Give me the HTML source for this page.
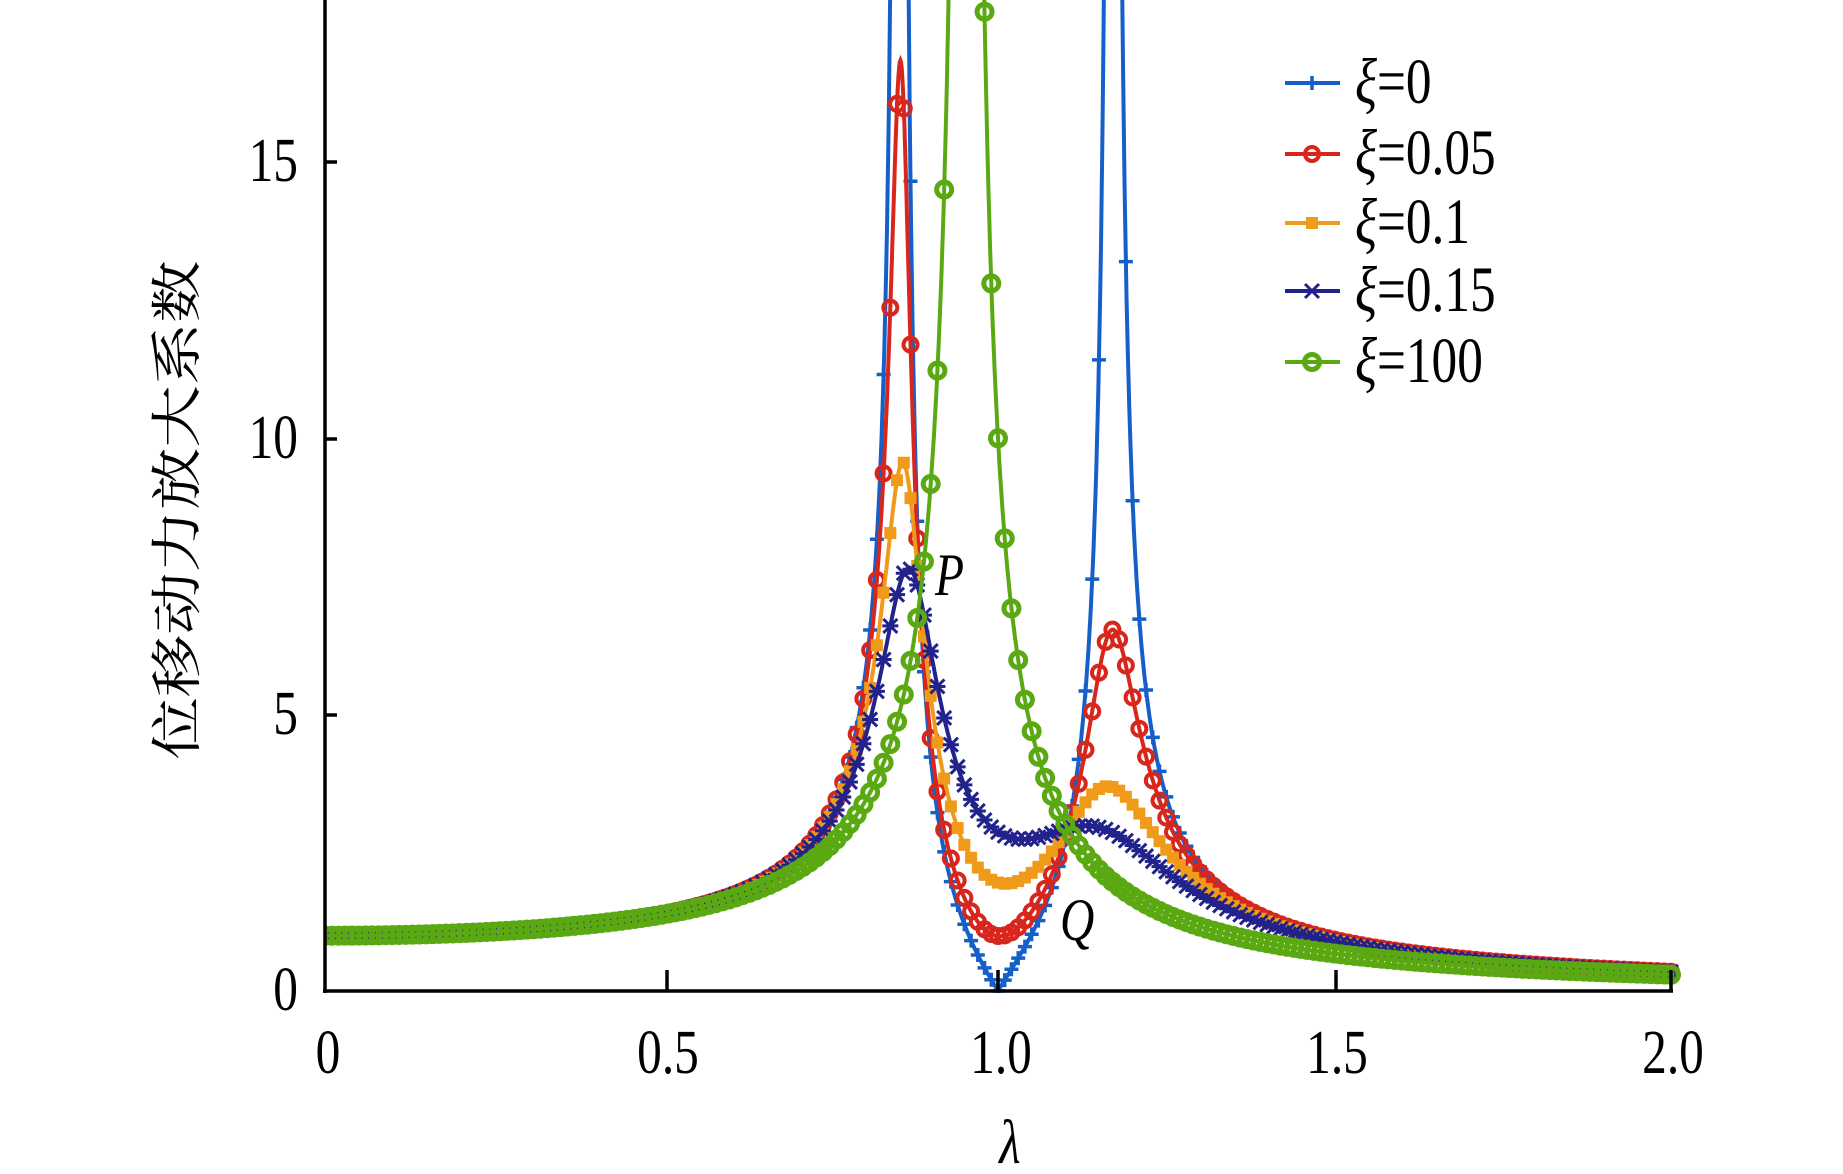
<!DOCTYPE html>
<html><head><meta charset="utf-8"><style>
html,body{margin:0;padding:0;background:#fff;}
svg{display:block;}
text{font-family:"Liberation Serif","Noto Serif CJK SC",serif;}
</style></head><body>
<svg id="s" width="1843" height="1174" viewBox="0 0 1843 1174" xmlns="http://www.w3.org/2000/svg">
<defs><clipPath id="c"><rect x="325" y="0" width="1360" height="993"/></clipPath></defs>
<g id="plot" clip-path="url(#c)"></g>
<g stroke="#000" stroke-width="3.5" fill="none">
<line x1="325" y1="0" x2="325" y2="993"/>
<line x1="323" y1="991" x2="1673" y2="991"/>
<line x1="325" y1="715" x2="337" y2="715"/>
<line x1="325" y1="439" x2="337" y2="439"/>
<line x1="325" y1="162" x2="337" y2="162"/>
<line x1="667" y1="991" x2="667" y2="970"/>
<line x1="998" y1="991" x2="998" y2="970"/>
<line x1="1336" y1="991" x2="1336" y2="970"/>
<line x1="1671" y1="991" x2="1671" y2="970"/>
</g>
<g font-size="52" fill="#000" text-anchor="end">
<text transform="translate(298,1010) scale(0.95,1.2)">0</text>
<text transform="translate(298,734) scale(0.95,1.2)">5</text>
<text transform="translate(298,458) scale(0.95,1.2)">10</text>
<text transform="translate(298,181) scale(0.95,1.2)">15</text>
</g>
<g font-size="52" fill="#000" text-anchor="middle">
<text transform="translate(328,1073) scale(0.95,1.2)">0</text>
<text transform="translate(668,1073) scale(0.95,1.2)">0.5</text>
<text transform="translate(1001,1073) scale(0.95,1.2)">1.0</text>
<text transform="translate(1337,1073) scale(0.95,1.2)">1.5</text>
<text transform="translate(1673,1073) scale(0.95,1.2)">2.0</text>
<text transform="translate(1010,1163) scale(0.95,1.2)" font-style="italic">λ</text>
<text transform="translate(195,510) rotate(-90) scale(1.2,1)" font-size="52">位移动力放大系数</text>
</g>
<text transform="translate(935,595) scale(0.95,1.2)" font-size="50" font-style="italic">P</text>
<text transform="translate(1060,940) scale(0.95,1.2)" font-size="50" font-style="italic">Q</text>
<g id="leg" font-size="54"></g>
</svg>
<script>
var NS="http://www.w3.org/2000/svg";
function X(l){return 325+l*673;}
function Y(a){return 991-a*55.27;}
var mu=0.1,f=1;
function A(g,x){
 if(x>50){return 1/Math.abs(1-(1+mu)*g*g);}
 var a=2*x*g, b=g*g-f*f;
 var num=a*a+b*b;
 var d1=a*(g*g-1+mu*g*g), d2=mu*f*f*g*g-(g*g-1)*(g*g-f*f);
 return Math.sqrt(num/(d1*d1+d2*d2));
}
var ser=[[0,"#1560c8","plus"],[0.05,"#d8261c","circ"],[0.1,"#f09a1a","sq"],[0.15,"#22228c","star"],[100,"#5aa812","gcirc"]];
var plot=document.getElementById("plot");
function el(t,at,p){var e=document.createElementNS(NS,t);for(var k in at)e.setAttribute(k,at[k]);(p||plot).appendChild(e);return e;}
function marker(type,x,y,c,p){
 if(type=="plus"){el("path",{d:"M"+(x-7)+" "+y+"h14M"+x+" "+(y-7)+"v14",stroke:c,"stroke-width":3.5},p);}
 else if(type=="circ"){el("circle",{cx:x,cy:y,r:7,fill:"none",stroke:c,"stroke-width":4},p);}
 else if(type=="sq"){el("rect",{x:x-6,y:y-6,width:12,height:12,fill:c},p);}
 else if(type=="star"){el("path",{d:"M"+(x-7)+" "+(y-7)+"L"+(x+7)+" "+(y+7)+"M"+(x+7)+" "+(y-7)+"L"+(x-7)+" "+(y+7)+"M"+(x-8)+" "+y+"h16",stroke:c,"stroke-width":3},p);}
 else {el("circle",{cx:x,cy:y,r:7.5,fill:"none",stroke:c,"stroke-width":5},p);}
}
ser.forEach(function(s){
 var d="";
 for(var i=0;i<=2000;i++){var g=i/1000;var a=Math.min(A(g,s[0]),40);d+=(i?"L":"M")+X(g).toFixed(1)+" "+Y(a).toFixed(1);}
 el("path",{d:d,fill:"none",stroke:s[1],"stroke-width":4});
 for(var i=0;i<=200;i++){var g=i/100;var a=A(g,s[0]);if(a>19)continue;marker(s[2],X(g),Y(a),s[1]);}
});
var leg=document.getElementById("leg");
var labs=["=0","=0.05","=0.1","=0.15","=100"],ys=[83,154,223,291,362];
ser.forEach(function(s,i){
 el("line",{x1:1285,y1:ys[i],x2:1340,y2:ys[i],stroke:s[1],"stroke-width":4},leg);
 marker(s[2],1312,ys[i],s[1],leg);
 var t=el("text",{transform:"translate(1355,"+(ys[i]+20)+") scale(0.95,1.2)",fill:"#000"},leg);
 t.innerHTML='<tspan font-style="italic">ξ</tspan>'+labs[i];
});
</script>
</body></html>
